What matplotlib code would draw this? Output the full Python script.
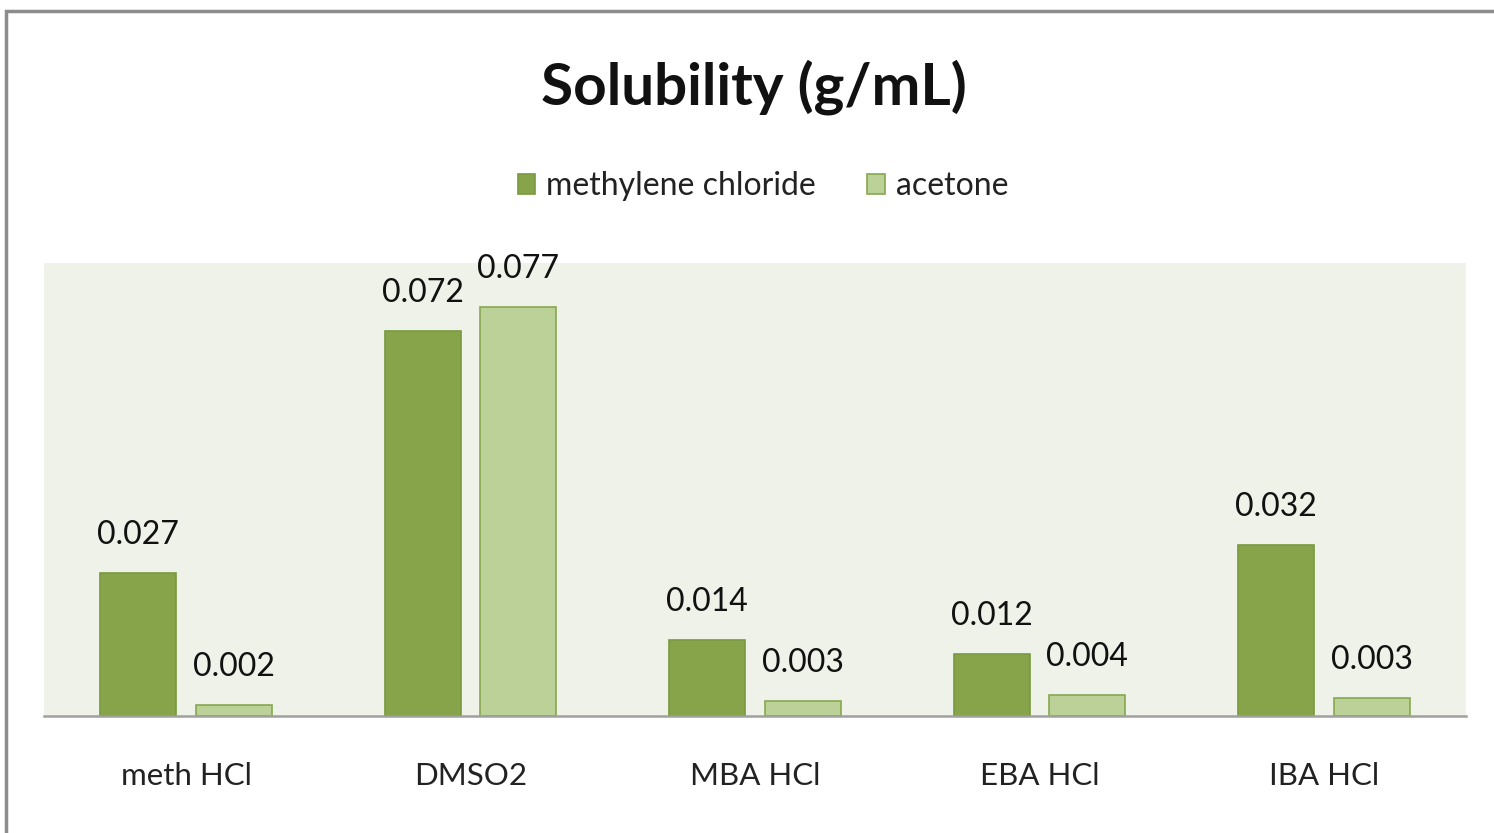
import numpy as np
import matplotlib
matplotlib.use('Agg')
import matplotlib.pyplot as plt
from matplotlib.patches import Rectangle

categories = ['meth HCl', 'DMSO2', 'MBA HCl', 'EBA HCl', 'IBA HCl']
methylene = [0.0269, 0.0724, 0.0143, 0.0116, 0.0321]
acetone = [0.0021, 0.0769, 0.0028, 0.0039, 0.0034]
series_names = ['methylene chloride', 'acetone']

plt.rcParams['font.family'] = ['Lato', 'DejaVu Sans']

W, H = 1494, 833
fig = plt.figure(figsize=(W / 100, H / 100), dpi=100)

# outer chart border
fig.patches.append(Rectangle((6 / W, -0.1), 1.2, (H - 11) / H + 0.1, transform=fig.transFigure,
                             fill=False, edgecolor='#8c8c8c', linewidth=2.5))

ax = fig.add_axes([44 / W, (H - 716) / H, 1422 / W, 453 / H])
ax.set_facecolor('#eff2e9')

x = np.arange(len(categories))
w = 0.267
off = 0.168
dark, dark_edge = '#87a44b', '#789a3e'
light, light_edge = '#bbd198', '#86a850'

b1 = ax.bar(x - off, methylene, w, color=dark, edgecolor=dark_edge, linewidth=1.2,
            label=series_names[0])
b2 = ax.bar(x + off, acetone, w, color=light, edgecolor=light_edge, linewidth=1.2,
            label=series_names[1])

for bars, vals in [(b1, methylene), (b2, acetone)]:
    for rect, v in zip(bars, vals):
        ax.annotate('%.3f' % v, (rect.get_x() + rect.get_width() / 2, v),
                    xytext=(0, 38), textcoords='offset pixels',
                    ha='center', va='center', fontsize=23, color='#111111')

ax.set_xlim(-0.5, len(categories) - 0.5)
ax.set_ylim(0, 0.0852)
ax.set_yticks([])
ax.set_xticks(x)
ax.set_xticklabels(categories, fontsize=22.5, color='#222222')
ax.tick_params(axis='x', length=0, pad=33)
for s in ['top', 'left', 'right']:
    ax.spines[s].set_visible(False)
ax.spines['bottom'].set_color('#a0a0a0')
ax.spines['bottom'].set_linewidth(1.8)

fig.text(754 / W, 1 - 87 / H, 'Solubility (g/mL)', ha='center', va='center',
         fontsize=42, fontweight='bold', color='#111111')

fig.legend(loc='center', bbox_to_anchor=(763 / W, 1 - 186 / H), ncol=2, frameon=False,
           fontsize=23, handlelength=0.55, handleheight=0.6, handletextpad=0.35,
           columnspacing=1.6, labelcolor='#222222')

fig.savefig('out.png', dpi=100, facecolor='white')
